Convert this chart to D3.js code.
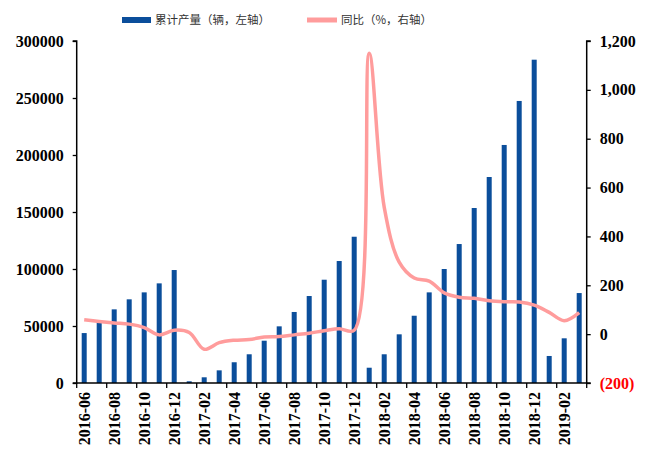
<!DOCTYPE html>
<html>
<head>
<meta charset="utf-8">
<script src="https://cdn.jsdelivr.net/npm/d3@7"></script>
<style>
  html, body { margin: 0; padding: 0; background: #fff; }
  svg { display: block; }
</style>
</head>
<body>
<svg id="chart" width="646" height="452"></svg>
<script>
const months = ["2016-06","2016-07","2016-08","2016-09","2016-10","2016-11","2016-12",
  "2017-01","2017-02","2017-03","2017-04","2017-05","2017-06","2017-07","2017-08","2017-09","2017-10","2017-11","2017-12",
  "2018-01","2018-02","2018-03","2018-04","2018-05","2018-06","2018-07","2018-08","2018-09","2018-10","2018-11","2018-12",
  "2019-01","2019-02","2019-03"];
const production = [43800, 54400, 64600, 73400, 79500, 87400, 99100,
  1500, 5000, 11100, 18200, 25200, 37100, 49700, 62300, 76300, 90600, 107000, 128300,
  13400, 25200, 42700, 59000, 79500, 100000, 121900, 153500, 180700, 208800, 247400, 283600,
  23700, 39200, 78900];
const yoy = [59, 52, 46, 41, 27, -3, 16,
  7, -62, -35, -25, -22, -12, -10, -3, 4, 14, 22, 16,
  1150, 520, 295, 230, 217, 169, 151, 147, 137, 133, 132, 119,
  89, 55, 88];
const leftTicks = [0, 50000, 100000, 150000, 200000, 250000, 300000];
const rightTicks = [-200, 0, 200, 400, 600, 800, 1000, 1200];
const xLabelMonths = months.filter((d, i) => i % 2 === 0);
const legendLabels = ["累计产量（辆，左轴）", "同比（%，右轴）"];

const svg = d3.select("#chart");
const pLeft = 76.7, pRight = 586.7, pTop = 41, pBottom = 383;
const serif = "'Liberation Serif', 'Times New Roman', serif";
const cjk = "'Noto Sans CJK SC', sans-serif";
const fs = 16;

const x = d3.scaleBand().domain(months).range([pLeft, pRight]).paddingInner(2/3).paddingOuter(1/3);
const step = x.step();
const yL = d3.scaleLinear().domain([0, 300000]).range([pBottom, pTop]);
const yR = d3.scaleLinear().domain([-200, 1200]).range([pBottom, pTop]);

// bars
svg.append("g").selectAll("rect").data(months).join("rect")
  .attr("x", d => x(d))
  .attr("width", x.bandwidth())
  .attr("y", (d, i) => yL(production[i]))
  .attr("height", (d, i) => yL(0) - yL(production[i]))
  .attr("fill", "#0B4E9B");

// line
const line = d3.line()
  .x((d, i) => x(months[i]) + x.bandwidth() / 2)
  .y(d => yR(d))
  .curve(d3.curveCatmullRom.alpha(0.5));
svg.append("path").datum(yoy)
  .attr("d", line)
  .attr("fill", "none")
  .attr("stroke", "#FF9C9C")
  .attr("stroke-width", 3.5)
  .attr("stroke-linejoin", "round");

// left axis
const gL = svg.append("g").attr("transform", `translate(${pLeft},0)`)
  .call(d3.axisLeft(yL).tickValues(leftTicks).tickSize(4).tickPadding(9).tickFormat(d3.format("d")));
gL.select(".domain").attr("stroke", "#000").attr("stroke-width", 1.5).attr("d", `M-4,${pTop}H0V${pBottom}H-4`);
gL.selectAll(".tick line").attr("stroke", "#000").attr("stroke-width", 1.3);
gL.selectAll("text").attr("font-family", serif).attr("font-weight", "bold").attr("font-size", fs).attr("fill", "#000");

// right axis
const fmtR = d => d < 0 ? `(${d3.format(",")(-d)})` : d3.format(",")(d);
const gR = svg.append("g").attr("transform", `translate(${pRight},0)`)
  .call(d3.axisRight(yR).tickValues(rightTicks).tickSize(4).tickPadding(9).tickFormat(fmtR));
gR.select(".domain").attr("stroke", "#000").attr("stroke-width", 1.5).attr("d", `M4,${pTop}H0V${pBottom}H4`);
gR.selectAll(".tick line").attr("stroke", "#000").attr("stroke-width", 1.3);
gR.selectAll("text").attr("font-family", serif).attr("font-weight", "bold").attr("font-size", fs)
  .attr("fill", d => d < 0 ? "#FF0000" : "#000");

// x axis
const gX = svg.append("g").attr("transform", `translate(0,${pBottom})`)
  .call(d3.axisBottom(x).tickValues(xLabelMonths).tickSize(0).tickPadding(0));
gX.select(".domain").attr("stroke", "#000").attr("stroke-width", 1.5).attr("d", `M${pLeft},0H${pRight}`);
gX.selectAll(".tick text")
  .attr("font-family", serif).attr("font-weight", "bold").attr("font-size", fs).attr("fill", "#000")
  .attr("text-anchor", "end")
  .attr("transform", "translate(0,9) rotate(-90)")
  .attr("x", 0).attr("y", 0).attr("dy", "0.35em");
// tick marks at category boundaries (every 2 months)
const boundaries = d3.range(0, months.length + 1, 2).map(i => pLeft + i * step);
gX.selectAll(".bt").data(boundaries).join("line")
  .attr("x1", d => d).attr("x2", d => d).attr("y1", 0).attr("y2", 5)
  .attr("stroke", "#000").attr("stroke-width", 1.3);

// legend
const lg = svg.append("g");
lg.append("rect").attr("x", 122).attr("y", 17).attr("width", 29).attr("height", 6).attr("fill", "#0B4E9B");
lg.append("text").attr("x", 155).attr("y", 20).attr("dy", "0.35em")
  .attr("font-family", cjk).attr("font-size", 11.5).attr("fill", "#333").text(legendLabels[0]);
lg.append("line").attr("x1", 307).attr("x2", 337).attr("y1", 20).attr("y2", 20)
  .attr("stroke", "#FF9C9C").attr("stroke-width", 5);
lg.append("text").attr("x", 341).attr("y", 20).attr("dy", "0.35em")
  .attr("font-family", cjk).attr("font-size", 11.5).attr("fill", "#333").text(legendLabels[1]);
</script>
</body>
</html>
